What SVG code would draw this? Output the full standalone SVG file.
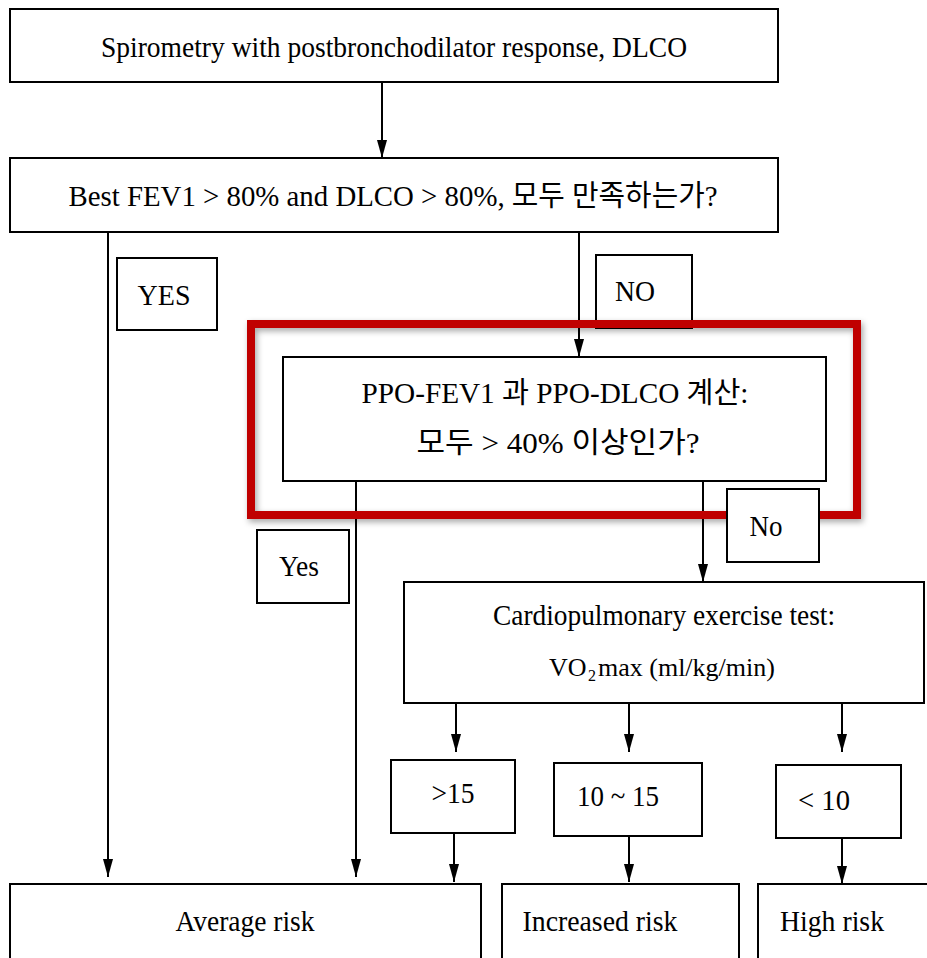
<svg xmlns="http://www.w3.org/2000/svg" width="927" height="958" viewBox="0 0 927 958">
<style>
.box{fill:#fff;stroke:#000;stroke-width:2}
.lbl{fill:#fff;stroke:#000;stroke-width:2}
.t{font-family:"Liberation Serif","Noto Sans CJK KR",serif;font-size:29px;fill:#000;text-anchor:middle;dominant-baseline:central}
.s{font-family:"Liberation Serif",serif;font-size:26px;fill:#000;dominant-baseline:central}
.sub{font-family:"Liberation Serif",serif;font-size:16px;fill:#000;dominant-baseline:central}
.ln{stroke:#000;stroke-width:2;fill:none;marker-end:url(#arr)}
</style>
<defs>
<marker id="arr" markerUnits="userSpaceOnUse" markerWidth="18" markerHeight="12" refX="18" refY="6" orient="auto">
<path d="M0,1 L18,6 L0,11 z" fill="#000"/>
</marker>
<filter id="sh" x="-10%" y="-10%" width="120%" height="130%">
<feDropShadow dx="2" dy="3" stdDeviation="3" flood-color="#000" flood-opacity="0.35"/>
</filter>
</defs>
<rect width="927" height="958" fill="#fff"/>
<g id="connectors">
<line class="ln" x1="382" y1="82" x2="382" y2="158"/>
<line class="ln" x1="108" y1="232" x2="108" y2="877"/>
<line class="ln" x1="579" y1="232" x2="579" y2="357"/>
<line class="ln" x1="356" y1="481" x2="356" y2="877"/>
<line class="ln" x1="703" y1="481" x2="703" y2="582"/>
<line class="ln" x1="456" y1="703" x2="456" y2="752"/>
<line class="ln" x1="629" y1="703" x2="629" y2="752"/>
<line class="ln" x1="842" y1="703" x2="842" y2="752"/>
<line class="ln" x1="454" y1="833" x2="454" y2="882"/>
<line class="ln" x1="629" y1="836" x2="629" y2="882"/>
<line class="ln" x1="842" y1="838" x2="842" y2="884"/>
</g>
<g id="n1"><rect class="box" x="10" y="9" width="768" height="73"/>
<text class="t" x="394" y="47" textLength="586" lengthAdjust="spacingAndGlyphs">Spirometry with postbronchodilator response, DLCO</text></g>
<g id="n2"><rect class="box" x="10" y="158" width="768" height="74"/>
<text class="t" x="393" y="196" textLength="649" lengthAdjust="spacingAndGlyphs">Best FEV1 &gt; 80% and DLCO &gt; 80%,  모두  만족하는가?</text></g>
<g id="yes1"><rect class="lbl" x="117" y="258" width="100" height="72"/>
<text class="t" x="164" y="295" textLength="53" lengthAdjust="spacingAndGlyphs">YES</text></g>
<g id="no1"><rect class="lbl" x="596" y="255" width="96" height="73"/>
<text class="t" x="635" y="291" textLength="40" lengthAdjust="spacingAndGlyphs">NO</text></g>
<g id="n3"><rect class="box" x="283" y="357" width="543" height="124"/>
<text class="t" x="555" y="393" textLength="387" lengthAdjust="spacingAndGlyphs">PPO-FEV1  과  PPO-DLCO  계산:</text>
<text class="t" x="558" y="443" textLength="283" lengthAdjust="spacingAndGlyphs">모두  &gt; 40%  이상인가?</text></g>
<g id="highlight"><rect x="251" y="324" width="606" height="191" fill="none" stroke="#C00000" stroke-width="8" filter="url(#sh)"/></g>
<g id="yes2"><rect class="lbl" x="257" y="530" width="92" height="73"/>
<text class="t" x="299" y="566" textLength="40" lengthAdjust="spacingAndGlyphs">Yes</text></g>
<g id="no2"><rect class="lbl" x="727" y="489" width="92" height="73"/>
<text class="t" x="766" y="526" textLength="33" lengthAdjust="spacingAndGlyphs">No</text></g>
<g id="n4"><rect class="box" x="404" y="582" width="520" height="121"/>
<text class="t" x="664" y="615" textLength="342" lengthAdjust="spacingAndGlyphs">Cardiopulmonary exercise test:</text>
<text class="s" x="549" y="667">VO</text>
<text class="sub" x="588" y="675">2</text>
<text class="s" x="598" y="667">max (ml/kg/min)</text></g>
<g id="r1"><rect class="box" x="391" y="760" width="124" height="73"/>
<text class="t" x="453" y="793" textLength="43" lengthAdjust="spacingAndGlyphs">&gt;15</text></g>
<g id="r2"><rect class="box" x="554" y="763" width="148" height="73"/>
<text class="t" x="618" y="796" textLength="82" lengthAdjust="spacingAndGlyphs">10 ~ 15</text></g>
<g id="r3"><rect class="box" x="776" y="765" width="125" height="73"/>
<text class="t" x="824" y="800" textLength="52" lengthAdjust="spacingAndGlyphs">&lt; 10</text></g>
<g id="o1"><rect class="box" x="10" y="884" width="471" height="90"/>
<text class="t" x="245" y="921" textLength="139" lengthAdjust="spacingAndGlyphs">Average risk</text></g>
<g id="o2"><rect class="box" x="502" y="884" width="237" height="90"/>
<text class="t" x="600" y="921" textLength="155" lengthAdjust="spacingAndGlyphs">Increased risk</text></g>
<g id="o3"><rect class="box" x="758" y="884" width="180" height="90"/>
<text class="t" x="832" y="921" textLength="104" lengthAdjust="spacingAndGlyphs">High risk</text></g>
</svg>
